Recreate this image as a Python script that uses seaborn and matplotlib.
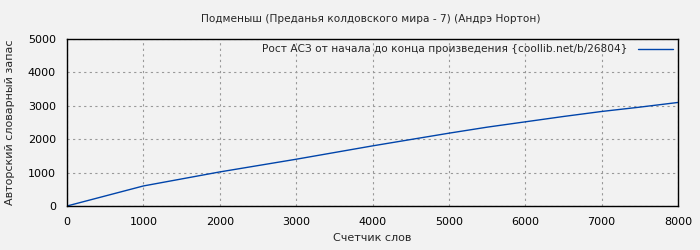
import matplotlib
matplotlib.use("Agg")
import matplotlib.pyplot as plt
import seaborn as sns
import pandas as pd

words = [0, 500, 1000, 1500, 2000, 2500, 3000, 3500, 4000, 4500, 5000, 5500, 6000, 6500, 7000, 7500, 8000]
vocab = [0, 300, 600, 810, 1020, 1210, 1400, 1600, 1800, 1990, 2180, 2360, 2520, 2680, 2830, 2960, 3100]
xticks = [0, 1000, 2000, 3000, 4000, 5000, 6000, 7000, 8000]
yticks = [0, 1000, 2000, 3000, 4000, 5000]
title = "Подменыш (Преданья колдовского мира - 7) (Андрэ Нортон)"
legend_label = "Рост АСЗ от начала до конца произведения {coollib.net/b/26804}"

sns.set_theme(style="white")
plt.rcParams['font.family'] = ['DejaVu Sans']

df = pd.DataFrame({"x": words, "y": vocab})
fig = plt.figure(figsize=(7, 2.5), dpi=100, facecolor="#f2f2f2")
ax = fig.add_axes([67/700, 44/250, 611/700, 167/250])
ax.set_facecolor("#f2f2f2")
sns.lineplot(data=df, x="x", y="y", ax=ax, color="#0044aa", linewidth=1.0, label=legend_label)
ax.set_xlim(0, 8000)
ax.set_ylim(0, 5000)
ax.set_xticks(xticks)
ax.set_yticks(yticks)
ax.tick_params(labelsize=8, colors="black", length=3, width=0.8, direction="out", pad=5)
ax.grid(True, color="#999999", linestyle=(0, (2, 3)), linewidth=0.8)
for s in ax.spines.values():
    s.set_color("black")
    s.set_linewidth(1.0)
ax.set_xlabel("Счетчик слов", fontsize=8, labelpad=4)
ax.set_ylabel("Авторский словарный запас", fontsize=8, labelpad=9)
fig.text(0.53, 0.925, title, ha="center", va="center", fontsize=7.6)
leg = ax.legend(loc="upper right", frameon=False, fontsize=7.6, markerfirst=False,
                handlelength=3.3, borderaxespad=0.1, handletextpad=1.0)
fig.savefig("out.png", dpi=100, facecolor="#f2f2f2")
